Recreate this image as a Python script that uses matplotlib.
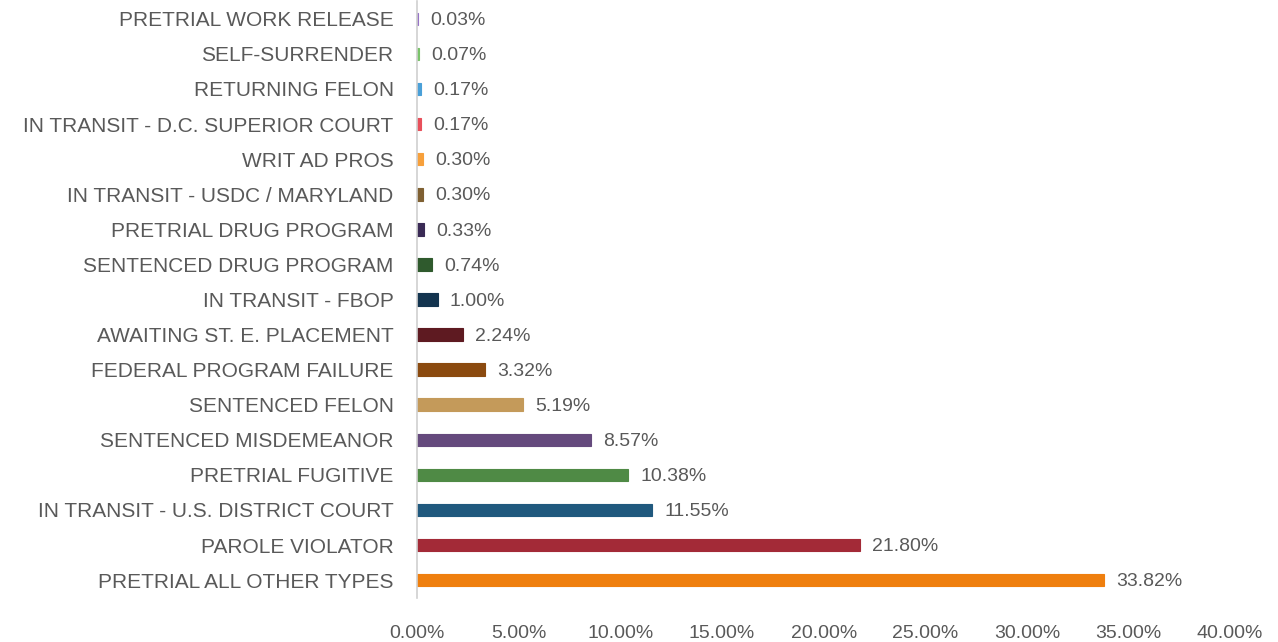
import numpy as np
import matplotlib.pyplot as plt
from matplotlib.ticker import FuncFormatter

# Share of population by commitment type (percent)
categories = [
    "PRETRIAL ALL OTHER TYPES", "PAROLE VIOLATOR", "IN TRANSIT - U.S. DISTRICT COURT",
    "PRETRIAL FUGITIVE", "SENTENCED MISDEMEANOR", "SENTENCED FELON",
    "FEDERAL PROGRAM FAILURE", "AWAITING ST. E. PLACEMENT", "IN TRANSIT - FBOP",
    "SENTENCED DRUG PROGRAM", "PRETRIAL DRUG PROGRAM", "IN TRANSIT - USDC / MARYLAND",
    "WRIT AD PROS", "IN TRANSIT - D.C. SUPERIOR COURT", "RETURNING FELON",
    "SELF-SURRENDER", "PRETRIAL WORK RELEASE",
]
values = [33.82, 21.80, 11.55, 10.38, 8.57, 5.19, 3.32, 2.24, 1.00,
          0.74, 0.33, 0.30, 0.30, 0.17, 0.17, 0.07, 0.03]
colors = ["#ef7f0e", "#a32a37", "#20597e", "#4f8a45", "#654a7d", "#c49a5a",
          "#8b4a0f", "#5e1a21", "#13344f", "#2f5a2d", "#3a2a55", "#7f6032",
          "#f7a03b", "#e8505b", "#4aa0d8", "#7ac36a", "#9673c6"]
xticks = [0, 5, 10, 15, 20, 25, 30, 35, 40]

text_color = "#595959"
plt.rcParams['font.family'] = ['Liberation Sans', 'DejaVu Sans']

fig = plt.figure(figsize=(12.78, 6.42), dpi=100)
ax = fig.add_axes([0.3265, 0.069, 0.636, 0.929])

y = np.arange(len(values))
ax.barh(y, values, height=0.36, color=colors, edgecolor=colors, linewidth=0.8)

for yi, v in zip(y, values):
    ax.text(v + 0.6, yi - 0.05, f"{v:.2f}%", va="center", ha="left",
            fontsize=14, color=text_color)

ax.set_yticks(y)
ax.set_yticklabels(categories, fontsize=15, color=text_color)
ax.set_xticks(xticks)
ax.xaxis.set_major_formatter(FuncFormatter(lambda v, p: f"{v:.2f}%"))
ax.tick_params(axis="x", labelsize=14, labelcolor=text_color, length=0, pad=20)
ax.tick_params(axis="y", length=0, pad=17)
ax.set_xlim(0, 40)
ax.set_ylim(-0.5, 16.5)

for s in ["top", "right", "bottom"]:
    ax.spines[s].set_visible(False)
ax.spines["left"].set_color("#d0d0d0")
ax.spines["left"].set_linewidth(1.2)

fig.savefig("out.png", dpi=100)
